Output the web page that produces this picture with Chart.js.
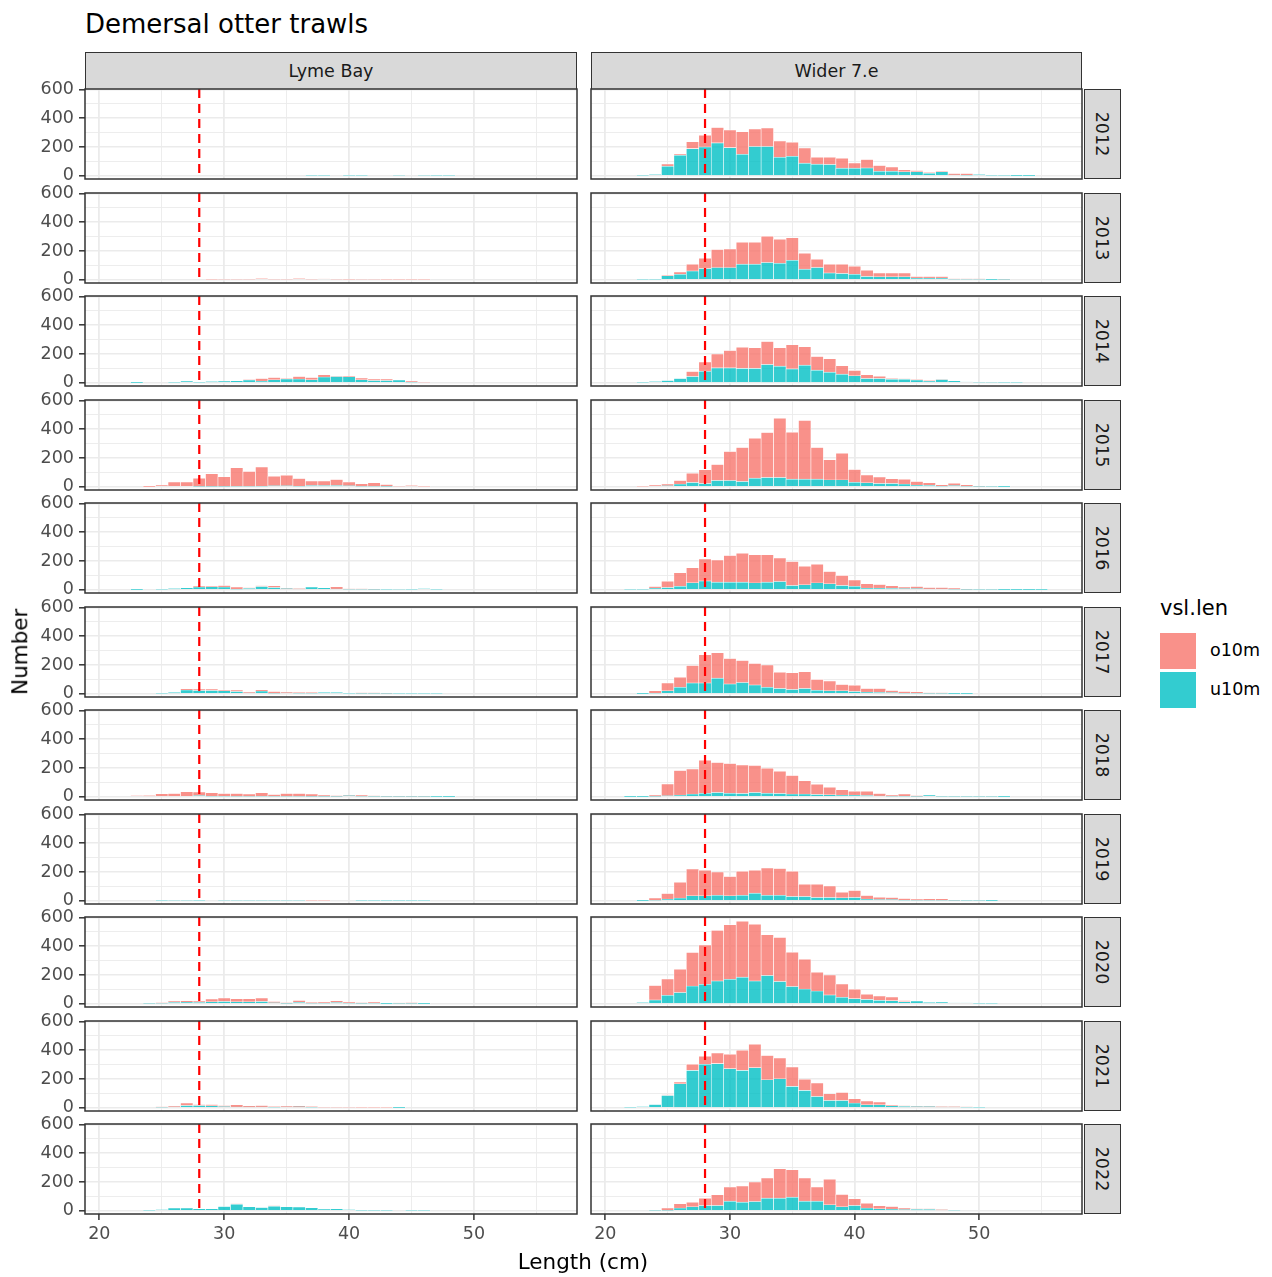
<!DOCTYPE html>
<html>
<head>
<meta charset="utf-8">
<script src="https://cdn.jsdelivr.net/npm/chart.js@4.4.1/dist/chart.umd.min.js"></script>
<style>
  body { margin: 0; background: #fff; width: 1272px; height: 1277px; position: relative; overflow: hidden;
         font-family: "DejaVu Sans", sans-serif; }
  canvas { position: absolute; }
  .txt { position: absolute; white-space: nowrap; line-height: 1; color: #000; }
  .strip { position: absolute; box-sizing: border-box; background: #D9D9D9; border: 1.5px solid #333;
           display: flex; align-items: center; justify-content: center; color: #1A1A1A; font-size: 17.5px; }
  .strip span.rot { display: inline-block; transform: rotate(90deg); }
  .key { position: absolute; width: 36px; height: 36px; }
</style>
</head>
<body>
<div class="txt" style="left:85px;top:11px;font-size:26px;">Demersal otter trawls</div>
<script>
// length bins (cm), one bar per bin
const lengthBins = [21,22,23,24,25,26,27,28,29,30, 31,32,33,34,35,36,37,38,39,40,
                    41,42,43,44,45,46,47,48,49,50, 51,52,53,54,55,56];
const years = [2012,2013,2014,2015,2016,2017,2018,2019,2020,2021,2022];
const areas = ['Lyme Bay', 'Wider 7.e'];
const minSize = 28;
const xTicks = [20,25,30,35,40,45,50,55];
const yTicks = [0,100,200,300,400,500,600];

// ---- Lyme Bay ----
const lyme_u10m_2012 = [0,0,0,0,0,0,0,0,0,0, 0,0,0,0,0,0,3,2,0,3, 2,0,0,5,0,5,2,2,0,0, 0,0,0,0,0,0];
const lyme_o10m_2012 = [0,0,0,0,0,0,0,0,0,0, 0,0,0,0,0,0,0,0,0,0, 0,0,0,0,0,0,0,0,0,0, 0,0,0,0,0,0];
const lyme_u10m_2013 = [0,0,0,0,0,0,0,0,0,0, 0,0,0,0,0,0,0,0,0,0, 0,0,0,0,0,0,0,0,0,0, 0,0,0,0,0,0];
const lyme_o10m_2013 = [0,0,0,0,0,0,0,0,3,4, 5,5,8,5,5,8,5,6,5,3, 5,5,3,3,2,2,0,0,0,0, 0,0,0,0,0,0];
const lyme_u10m_2014 = [0,0,1,0,0,2,12,3,9,12, 14,19,12,21,26,26,21,40,44,42, 21,16,16,19,5,0,0,0,0,0, 0,0,0,0,0,0];
const lyme_o10m_2014 = [0,0,0,0,0,0,0,0,0,0, 0,2,18,16,4,18,16,16,3,5, 12,10,10,0,7,5,0,0,0,0, 0,0,0,0,0,0];
const lyme_u10m_2015 = [0,0,0,0,0,0,0,3,3,3, 4,4,5,7,7,5,9,9,9,7, 4,4,3,0,0,0,0,0,0,0, 0,0,0,0,0,0];
const lyme_o10m_2015 = [0,0,0,1,12,33,33,57,88,67, 129,103,132,67,74,53,31,31,42,26, 17,24,13,5,9,2,0,0,0,0, 0,0,0,0,0,0];
const lyme_u10m_2016 = [0,0,1,0,3,9,14,19,21,19, 5,10,23,16,8,6,19,14,6,4, 4,3,3,5,3,7,2,0,0,0, 0,0,0,0,0,0];
const lyme_o10m_2016 = [0,0,0,0,0,0,0,7,5,11, 14,4,5,12,4,3,0,0,15,3, 3,2,0,0,0,0,0,0,0,0, 0,0,0,0,0,0];
const lyme_u10m_2017 = [0,0,0,0,3,10,26,23,23,21, 16,6,19,4,6,5,5,10,10,2, 3,3,2,3,3,3,3,0,0,0, 0,0,0,0,0,0];
const lyme_o10m_2017 = [0,0,0,0,0,0,9,10,10,7, 10,6,9,12,6,5,5,0,0,0, 4,4,3,0,0,0,0,0,0,0, 0,0,0,0,0,0];
const lyme_u10m_2018 = [0,0,0,0,0,0,0,8,5,5, 4,4,5,4,4,4,3,3,3,8, 4,3,2,2,2,2,1,1,0,0, 0,0,0,0,0,0];
const lyme_o10m_2018 = [0,0,7,9,21,23,35,25,23,18, 19,15,23,12,19,19,16,9,6,4, 8,4,3,3,2,2,2,2,0,0, 0,0,0,0,0,0];
const lyme_u10m_2019 = [0,0,0,0,3,4,5,3,0,4, 4,5,4,4,5,4,0,0,0,0, 3,3,3,3,3,3,0,0,0,0, 0,0,0,0,0,0];
const lyme_o10m_2019 = [0,0,0,0,0,0,0,0,0,0, 0,0,0,0,0,0,3,3,0,0, 0,0,0,0,0,0,0,0,0,0, 0,0,0,0,0,0];
const lyme_u10m_2020 = [0,0,0,2,4,10,11,10,14,16, 14,14,16,7,3,10,4,5,9,5, 3,5,1,3,3,1,0,0,0,0, 0,0,0,0,0,0];
const lyme_o10m_2020 = [0,0,0,1,4,10,11,10,20,25, 22,22,25,10,5,14,6,8,13,8, 5,8,1,3,5,1,0,0,0,0, 0,0,0,0,0,0];
const lyme_u10m_2021 = [0,0,0,0,4,6,16,16,14,8, 6,6,6,5,6,7,5,0,0,0, 0,0,0,1,0,0,0,0,0,0, 0,0,0,0,0,0];
const lyme_o10m_2021 = [0,0,0,0,3,6,17,7,9,8, 15,8,10,4,6,7,4,4,4,4, 3,3,3,1,0,0,0,0,0,0, 0,0,0,0,0,0];
const lyme_u10m_2022 = [0,0,0,2,7,19,19,14,14,30, 45,28,23,32,28,26,21,12,14,7, 3,3,3,0,3,3,0,0,0,0, 0,0,0,0,0,0];
const lyme_o10m_2022 = [0,0,0,0,0,0,0,0,0,0, 4,0,0,3,0,0,0,0,0,0, 0,0,0,0,0,0,0,0,0,0, 0,0,0,0,0,0];

// ---- Wider 7.e ----
const wider_u10m_2012 = [0,0,2,8,67,143,189,201,229,196, 150,203,203,129,136,88,81,79,53,53, 55,32,32,28,28,18,28,6,5,9, 2,2,1,1,0,0];
const wider_o10m_2012 = [0,0,0,0,16,9,47,81,106,123, 157,123,130,113,97,106,48,50,69,37, 58,40,30,14,9,5,4,10,11,0, 0,0,0,0,0,0];
const wider_u10m_2013 = [0,0,2,3,28,39,62,79,85,85, 109,109,120,115,136,74,85,48,44,39, 23,21,21,21,12,12,12,4,4,4, 1,3,0,0,0,0];
const wider_o10m_2013 = [0,0,0,0,4,16,46,71,125,130, 152,152,182,167,157,111,58,60,64,56, 44,27,27,27,11,11,11,3,3,3, 0,2,0,0,0,0];
const wider_u10m_2014 = [0,0,3,8,16,30,44,81,104,104, 100,100,127,116,97,123,88,74,60,49, 30,30,25,25,20,12,23,14,6,5, 4,3,2,0,0,0];
const wider_o10m_2014 = [0,0,0,0,0,0,35,63,96,120, 148,143,160,127,167,127,95,93,58,37, 26,16,5,3,2,3,2,0,0,0, 0,0,0,0,0,0];
const wider_u10m_2015 = [0,0,0,0,7,19,30,23,44,44, 37,60,65,65,53,53,53,49,49,32, 28,23,23,19,12,10,5,8,4,2, 2,1,0,0,0,0];
const wider_o10m_2015 = [0,0,2,12,12,25,65,95,111,201, 236,278,312,412,327,408,220,139,185,88, 55,46,33,34,25,18,9,17,10,2, 1,1,0,0,0,0];
const wider_u10m_2016 = [0,2,3,12,16,25,49,62,53,53, 53,49,53,58,30,35,49,42,30,25, 12,12,10,8,8,6,6,4,3,2, 2,1,1,1,1,0];
const wider_o10m_2016 = [0,0,0,11,44,93,104,153,155,185, 202,194,190,164,167,129,129,85,70,44, 30,25,18,11,15,10,10,8,1,1, 1,1,1,1,1,0];
const wider_u10m_2017 = [0,0,1,5,21,46,76,76,109,69, 79,62,46,37,30,37,25,21,21,16, 12,10,8,5,5,3,3,1,1,0, 0,0,0,0,0,0];
const wider_o10m_2017 = [0,0,1,16,55,70,121,195,176,176, 152,149,155,113,116,116,75,69,44,44, 25,27,15,11,9,4,4,1,1,0, 0,0,0,0,0,0];
const wider_u10m_2018 = [0,1,1,2,7,12,19,25,30,25, 23,30,25,23,19,19,16,14,12,12, 9,6,4,5,3,12,2,2,2,2, 2,1,0,0,0,0];
const wider_o10m_2018 = [0,1,1,10,83,171,175,230,208,206, 199,188,174,155,129,92,72,53,37,27, 30,17,8,14,6,0,1,1,1,1, 1,1,0,0,0,0];
const wider_u10m_2019 = [0,0,1,4,12,19,35,35,39,35, 39,53,39,39,30,30,23,23,21,23, 12,8,8,5,4,4,4,2,2,2, 1,0,0,0,0,0];
const wider_o10m_2019 = [0,0,1,15,39,111,187,178,162,134, 167,160,190,185,176,86,93,81,39,49, 25,17,15,11,8,10,10,2,1,1, 1,0,0,0,0,0];
const wider_u10m_2020 = [0,0,8,27,59,78,124,136,159,171, 185,159,197,155,120,103,89,62,45,36, 31,24,22,15,20,10,13,6,6,2, 2,0,0,0,0,0];
const wider_o10m_2020 = [0,0,0,100,114,163,233,272,351,379, 388,393,283,306,239,207,131,139,93,65, 35,31,26,7,0,0,0,0,0,0, 0,0,0,0,0,0];
const wider_u10m_2021 = [0,3,7,23,86,167,260,302,307,272, 260,279,195,202,149,121,79,51,51,33, 21,21,14,10,8,8,6,6,5,3, 0,0,0,0,0,0];
const wider_o10m_2021 = [0,0,0,0,5,12,42,56,74,100, 140,163,168,145,135,77,93,47,56,30, 26,19,7,4,4,4,3,3,2,0, 0,0,0,0,0,0];
const wider_u10m_2022 = [0,0,0,2,3,19,28,37,37,67, 60,65,88,88,95,67,67,42,28,37, 19,14,12,8,10,10,6,4,0,0, 0,0,0,0,0,0];
const wider_o10m_2022 = [0,0,0,1,16,30,32,51,75,98, 112,135,140,205,191,161,98,177,86,47, 34,21,18,11,4,4,3,0,0,0, 0,0,0,0,0,0];

const lymeU = [lyme_u10m_2012, lyme_u10m_2013, lyme_u10m_2014, lyme_u10m_2015, lyme_u10m_2016, lyme_u10m_2017,
               lyme_u10m_2018, lyme_u10m_2019, lyme_u10m_2020, lyme_u10m_2021, lyme_u10m_2022];
const lymeO = [lyme_o10m_2012, lyme_o10m_2013, lyme_o10m_2014, lyme_o10m_2015, lyme_o10m_2016, lyme_o10m_2017,
               lyme_o10m_2018, lyme_o10m_2019, lyme_o10m_2020, lyme_o10m_2021, lyme_o10m_2022];
const widerU = [wider_u10m_2012, wider_u10m_2013, wider_u10m_2014, wider_u10m_2015, wider_u10m_2016, wider_u10m_2017,
                wider_u10m_2018, wider_u10m_2019, wider_u10m_2020, wider_u10m_2021, wider_u10m_2022];
const widerO = [wider_o10m_2012, wider_o10m_2013, wider_o10m_2014, wider_o10m_2015, wider_o10m_2016, wider_o10m_2017,
                wider_o10m_2018, wider_o10m_2019, wider_o10m_2020, wider_o10m_2021, wider_o10m_2022];
const seriesU = [lymeU, widerU];
const seriesO = [lymeO, widerO];

// layout
const COL_X = [85, 591];
const PANEL_W = [492, 491];
const PANEL_H = 90;
const rowTop = r => Math.round(89.3 + r * 103.5);
const X_MIN = 18.85, X_MAX = 58.25, Y_MIN = -22, Y_MAX = 603;
const O_COL = 'rgba(248,118,109,0.8)';
const U_COL = 'rgba(0,191,196,0.8)';

const cutoffLine = {
  id: 'cutoffLine',
  afterDatasetsDraw(chart) {
    const { ctx, chartArea: a, scales: { x } } = chart;
    const px = x.getPixelForValue(minSize);
    ctx.save();
    ctx.strokeStyle = '#FF0000';
    ctx.lineWidth = 2.2;
    ctx.setLineDash([9, 6]);
    ctx.beginPath();
    ctx.moveTo(px, a.top);
    ctx.lineTo(px, a.bottom);
    ctx.stroke();
    ctx.restore();
  }
};

const panelBorder = {
  id: 'panelBorder',
  afterDraw(chart) {
    const { ctx, chartArea: a } = chart;
    ctx.save();
    ctx.strokeStyle = '#333333';
    ctx.lineWidth = 1.5;
    ctx.strokeRect(a.left, a.top, a.right - a.left, a.bottom - a.top);
    ctx.restore();
  }
};

const toPoints = arr => lengthBins.map((x, i) => ({ x: x, y: arr[i] === 0 ? null : arr[i] }));

function addText(txt, css) {
  const d = document.createElement('div');
  d.className = 'txt';
  d.textContent = txt;
  Object.assign(d.style, css);
  document.body.appendChild(d);
  return d;
}

// column strips
areas.forEach((name, c) => {
  const s = document.createElement('div');
  s.className = 'strip';
  Object.assign(s.style, { left: COL_X[c] + 'px', top: '52px', width: PANEL_W[c] + 'px', height: '38px' });
  s.textContent = name;
  document.body.appendChild(s);
});

// year strips
years.forEach((yr, r) => {
  const s = document.createElement('div');
  s.className = 'strip';
  Object.assign(s.style, { left: '1084px', top: rowTop(r) + 'px', width: '37px', height: PANEL_H + 'px' });
  const sp = document.createElement('span');
  sp.className = 'rot';
  sp.textContent = yr;
  s.appendChild(sp);
  document.body.appendChild(s);
});

function makePanel(col, row) {
  const last = row === years.length - 1;
  const padX = 12, padY = 30;
  const yw = col === 0 ? 60 : 0;
  const xh = last ? 34 : 0;
  const cv = document.createElement('canvas');
  cv.width = PANEL_W[col] + yw + 2 * padX;
  cv.height = PANEL_H + xh + 2 * padY;
  cv.style.left = (COL_X[col] - yw - padX) + 'px';
  cv.style.top = (rowTop(row) - padY) + 'px';
  document.body.appendChild(cv);

  const tickFont = { family: 'DejaVu Sans', size: 17.5 };
  new Chart(cv, {
    type: 'bar',
    data: {
      datasets: [
        { label: 'u10m', data: toPoints(seriesU[col][row]), backgroundColor: U_COL,
          borderColor: 'rgba(255,255,255,0.9)', borderWidth: 0.6, barPercentage: 1, categoryPercentage: 1 },
        { label: 'o10m', data: toPoints(seriesO[col][row]), backgroundColor: O_COL,
          borderColor: 'rgba(255,255,255,0.9)', borderWidth: 0.6, barPercentage: 1, categoryPercentage: 1 }
      ]
    },
    options: {
      responsive: false,
      animation: false,
      events: [],
      layout: { padding: { left: padX, right: padX, top: padY, bottom: padY } },
      plugins: { legend: { display: false }, tooltip: { enabled: false } },
      scales: {
        x: {
          type: 'linear', stacked: true, min: X_MIN, max: X_MAX, offset: false,
          afterBuildTicks: s => { s.ticks = xTicks.map(v => ({ value: v })); },
          afterFit: s => { s.height = xh; },
          border: { display: false },
          grid: {
            offset: false,
            color: '#EBEBEB',
            lineWidth: c => (c.tick && c.tick.value % 10 === 0) ? 1.8 : 0.9,
            drawTicks: last, tickLength: 6, tickWidth: 1.5,
            tickColor: c => (c.tick && c.tick.value % 10 === 0) ? '#333333' : 'rgba(0,0,0,0)'
          },
          ticks: {
            display: last, autoSkip: false, maxRotation: 0, minRotation: 0, padding: 4,
            color: '#4D4D4D', font: tickFont,
            callback: v => v % 10 === 0 ? v : ''
          }
        },
        y: {
          stacked: true, min: Y_MIN, max: Y_MAX,
          afterBuildTicks: s => { s.ticks = yTicks.map(v => ({ value: v })); },
          afterFit: s => { s.width = yw; },
          border: { display: false },
          grid: {
            color: '#EBEBEB',
            lineWidth: c => (c.tick && c.tick.value % 200 === 0) ? 1.6 : 0.9,
            drawTicks: col === 0, tickLength: 6, tickWidth: 1.5,
            tickColor: c => (c.tick && c.tick.value % 200 === 0) ? '#333333' : 'rgba(0,0,0,0)'
          },
          ticks: {
            display: col === 0, autoSkip: false, padding: 5,
            color: '#4D4D4D', font: tickFont,
            callback: v => v % 200 === 0 ? v : ''
          }
        }
      }
    },
    plugins: [cutoffLine, panelBorder]
  });
}

for (let r = 0; r < years.length; r++) {
  makePanel(0, r);
  makePanel(1, r);
}

// axis titles
addText('Length (cm)', { fontSize: '21.5px', left: '483px', width: '200px', top: '1251px', textAlign: 'center' });
addText('Number', { fontSize: '21.5px', left: '-80px', width: '200px', top: '641px', textAlign: 'center',
                    transform: 'rotate(-90deg)' });

// legend
addText('vsl.len', { fontSize: '21px', left: '1160px', top: '598px' });
const keys = [['o10m', O_COL, 633], ['u10m', U_COL, 672]];
keys.forEach(([lab, colr, top]) => {
  const k = document.createElement('div');
  k.className = 'key';
  Object.assign(k.style, { left: '1160px', top: top + 'px', background: colr });
  document.body.appendChild(k);
  addText(lab, { fontSize: '17.5px', left: '1210px', top: (top + 9) + 'px', color: '#000' });
});
</script>
</body>
</html>
